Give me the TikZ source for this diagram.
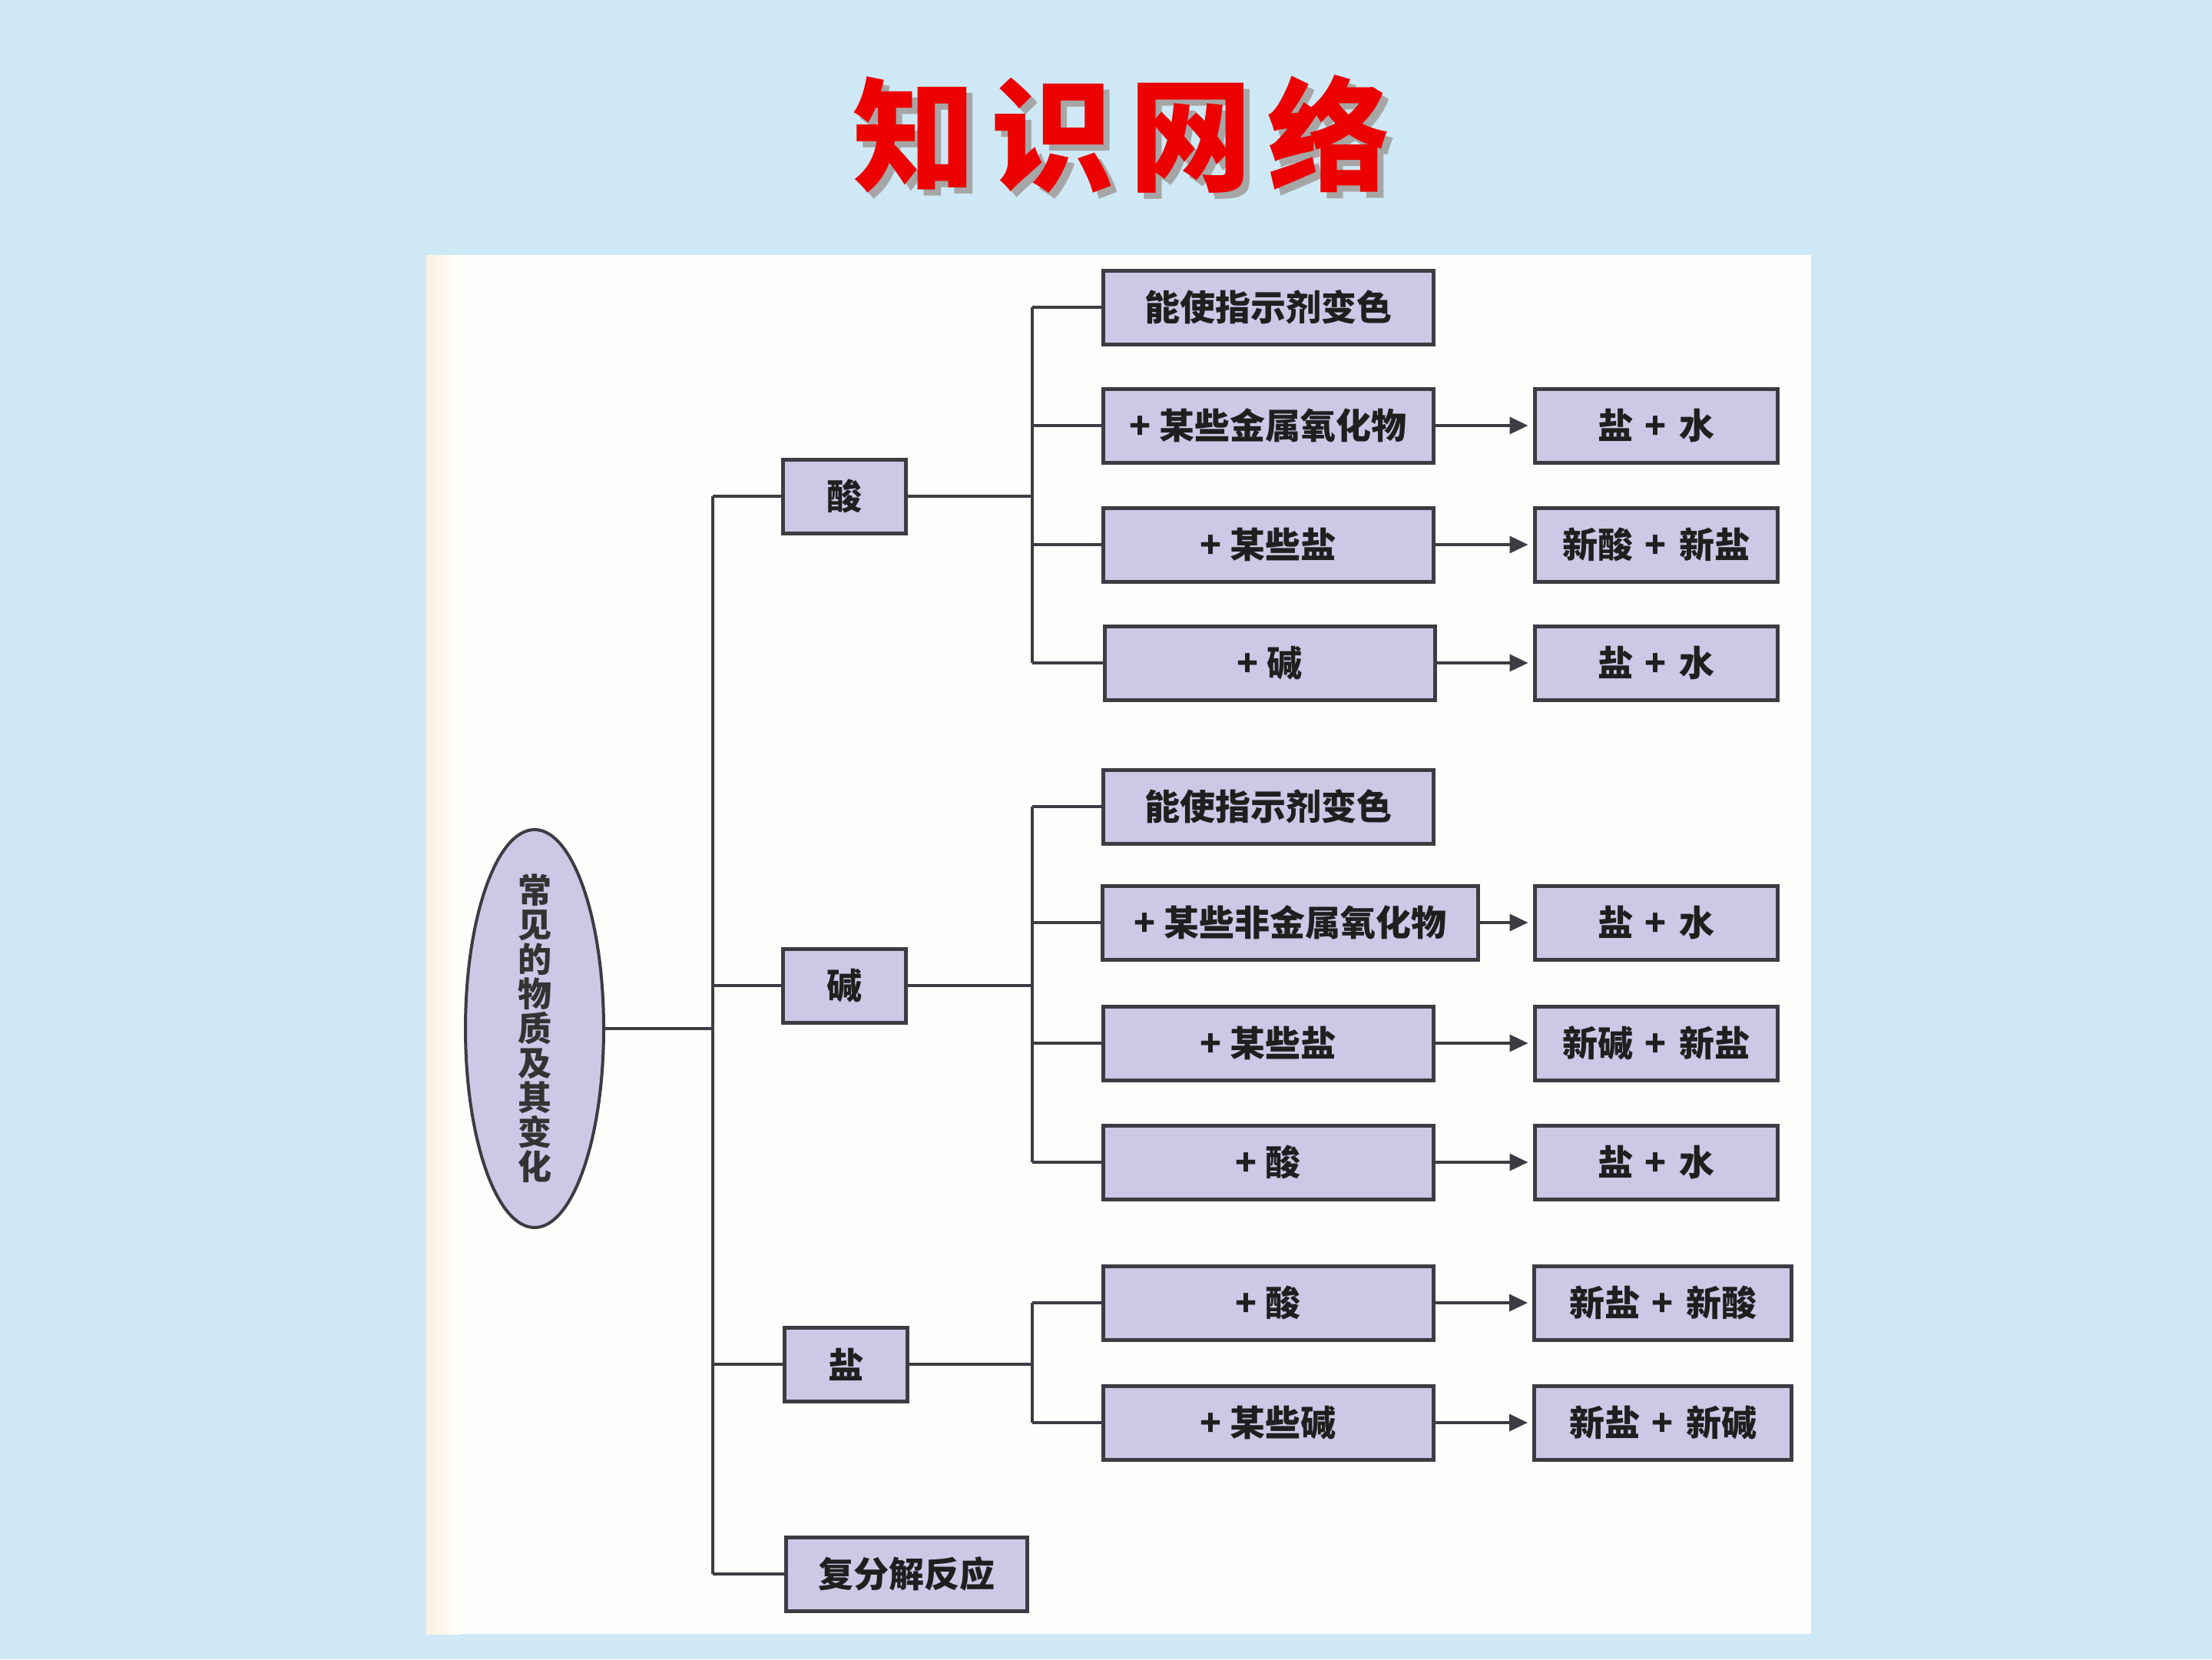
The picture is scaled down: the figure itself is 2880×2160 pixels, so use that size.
\documentclass[tikz,border=0pt]{standalone}
\usepackage{fontspec}
\setmainfont{Noto Sans CJK SC}
\usetikzlibrary{shapes.geometric,arrows.meta}
\definecolor{bgblue}{RGB}{206,233,245}
\definecolor{boxfill}{RGB}{204,200,230}
\definecolor{linegray}{RGB}{60,60,66}
\definecolor{titlered}{RGB}{236,0,0}
\newcommand{\pl}{\hspace{16pt}+\hspace{16pt}}
\tikzset{
  box/.style={draw=linegray, line width=5pt, fill=boxfill, inner sep=0pt,
    minimum height=96pt, font=\fontsize{46}{50}\selectfont\bfseries, text=black!88},
  conn/.style={draw=linegray, line width=3.6pt},
  arr/.style={conn, -{Triangle[length=24pt,width=22pt]}, shorten >=6pt},
}
\begin{document}
\begin{tikzpicture}[x=1pt,y=-1pt]
\useasboundingbox (0,0) rectangle (2880,2160);
\fill[bgblue] (0,0) rectangle (2880,2160);
% panel
\fill[white!99!orange] (555,332) rectangle (2358,2127);
\shade[left color=orange!12, right color=white] (555,332) rectangle (600,2127);
% title with shadow
\node[font=\fontsize{160}{170}\selectfont\bfseries] (title) at (1460,178)
  {\makebox[0pt][l]{\hspace{8pt}\raisebox{-8pt}{\color{gray!70}知\hspace{20pt}识\hspace{20pt}网\hspace{20pt}络}}\color{titlered}知\hspace{20pt}识\hspace{20pt}网\hspace{20pt}络};
% root
\node[draw=linegray, line width=4pt, fill=boxfill, ellipse, minimum width=180pt, minimum height=518pt, inner sep=0pt] (root) at (696,1339) {};
\node[align=center, font=\fontsize{44}{45}\selectfont\bfseries, text=black!80] (roottext) at (root.center) {常\\见\\的\\物\\质\\及\\其\\变\\化};
% level 1
\node[box, minimum width=160pt] (acid) at (1099,646) {酸};
\node[box, minimum width=160pt] (base) at (1099,1283) {碱};
\node[box, minimum width=160pt] (salt) at (1101,1776) {盐};
\node[box, minimum width=314pt] (meta) at (1180,2049) {复分解反应};
% acid group
\node[box, minimum width=430pt] (a1) at (1651,400) {能使指示剂变色};
\node[box, minimum width=430pt] (a2) at (1651,554) {+ 某些金属氧化物};
\node[box, minimum width=430pt] (a3) at (1651,709) {+ 某些盐};
\node[box, minimum width=430pt] (a4) at (1653,863) {+ 碱};
\node[box, minimum width=316pt] (ra2) at (2156,554) {盐\pl 水};
\node[box, minimum width=316pt] (ra3) at (2156,709) {新酸\pl 新盐};
\node[box, minimum width=316pt] (ra4) at (2156,863) {盐\pl 水};
% base group
\node[box, minimum width=430pt] (b1) at (1651,1050) {能使指示剂变色};
\node[box, minimum width=489pt] (b2) at (1680,1201) {+ 某些非金属氧化物};
\node[box, minimum width=430pt] (b3) at (1651,1358) {+ 某些盐};
\node[box, minimum width=430pt] (b4) at (1651,1513) {+ 酸};
\node[box, minimum width=316pt] (rb2) at (2156,1201) {盐\pl 水};
\node[box, minimum width=316pt] (rb3) at (2156,1358) {新碱\pl 新盐};
\node[box, minimum width=316pt] (rb4) at (2156,1513) {盐\pl 水};
% salt group
\node[box, minimum width=430pt] (c1) at (1651,1696) {+ 酸};
\node[box, minimum width=430pt] (c2) at (1651,1852) {+ 某些碱};
\node[box, minimum width=335pt] (rc1) at (2165,1696) {新盐\pl 新酸};
\node[box, minimum width=335pt] (rc2) at (2165,1852) {新盐\pl 新碱};
% trunk
\coordinate (tr) at (928,0);
\coordinate (ga) at (1344,0);
\draw[conn] (root.east) -- (root.east -| tr);
\draw[conn] (acid.west -| tr) -- (meta.west -| tr);
\draw[conn] (acid.west -| tr) -- (acid.west);
\draw[conn] (base.west -| tr) -- (base.west);
\draw[conn] (salt.west -| tr) -- (salt.west);
\draw[conn] (meta.west -| tr) -- (meta.west);
% acid branches
\draw[conn] (acid.east) -- (acid.east -| ga);
\draw[conn] (a1.west -| ga) -- (a4.west -| ga);
\foreach \n in {a1,a2,a3,a4} \draw[conn] (\n.west -| ga) -- (\n.west);
% base branches
\draw[conn] (base.east) -- (base.east -| ga);
\draw[conn] (b1.west -| ga) -- (b4.west -| ga);
\foreach \n in {b1,b2,b3,b4} \draw[conn] (\n.west -| ga) -- (\n.west);
% salt branches
\draw[conn] (salt.east) -- (salt.east -| ga);
\draw[conn] (c1.west -| ga) -- (c2.west -| ga);
\foreach \n in {c1,c2} \draw[conn] (\n.west -| ga) -- (\n.west);
% arrows
\draw[arr] (a2.east) -- (ra2.west);
\draw[arr] (a3.east) -- (ra3.west);
\draw[arr] (a4.east) -- (ra4.west);
\draw[arr] (b2.east) -- (rb2.west);
\draw[arr] (b3.east) -- (rb3.west);
\draw[arr] (b4.east) -- (rb4.west);
\draw[arr] (c1.east) -- (rc1.west);
\draw[arr] (c2.east) -- (rc2.west);
\end{tikzpicture}
\end{document}
